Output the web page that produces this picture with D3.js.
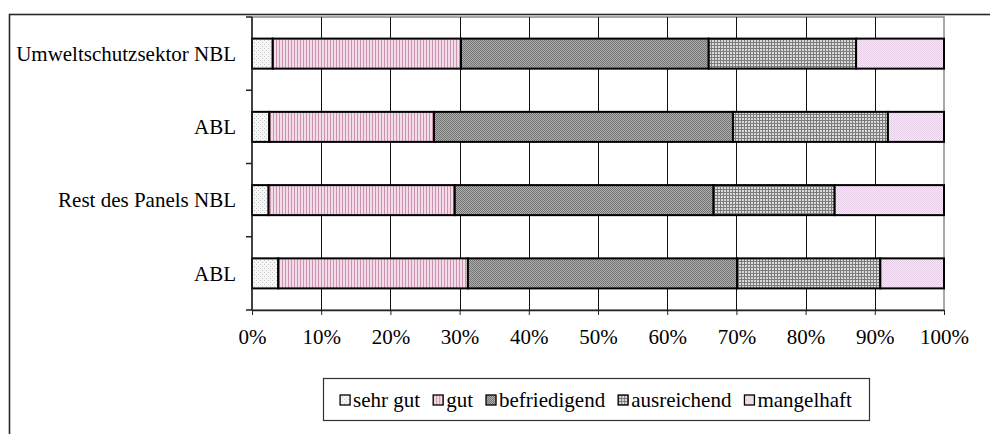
<!DOCTYPE html>
<html>
<head>
<meta charset="utf-8">
<script src="https://cdn.jsdelivr.net/npm/d3@7"></script>
<style>
  body { margin: 0; background: #fff; }
  svg { display: block; font-family: "Liberation Serif", "Times New Roman", serif; }
</style>
</head>
<body>
<div id="chart"></div>
<script>
// ── Data (percent of each group) ─────────────────────────────────
const categories = ["Umweltschutzsektor NBL", "ABL", "Rest des Panels NBL", "ABL"];
const grades = ["sehr gut", "gut", "befriedigend", "ausreichend", "mangelhaft"];
const sehrGut      = [3.0, 2.5, 2.4, 3.8];
const gut          = [27.2, 23.8, 26.9, 27.4];
const befriedigend = [35.8, 43.2, 37.4, 38.9];
const ausreichend  = [21.3, 22.4, 17.5, 20.7];
const mangelhaft   = [12.7, 8.1, 15.8, 9.2];
const xTicks = [0, 10, 20, 30, 40, 50, 60, 70, 80, 90, 100];

const rows = categories.map((c, i) => ({
  idx: i,
  "sehr gut": sehrGut[i],
  "gut": gut[i],
  "befriedigend": befriedigend[i],
  "ausreichend": ausreichend[i],
  "mangelhaft": mangelhaft[i]
}));

// ── Layout ───────────────────────────────────────────────────────
const W = 990, H = 434;
const plot = { left: 252, right: 944, top: 17, bottom: 310 };
const FS = 21;

const svg = d3.select("#chart").append("svg")
  .attr("width", W).attr("height", H);

// ── Fill patterns (Excel-style hatches) ─────────────────────────
const defs = svg.append("defs");
function pattern(id, size, bg, draw) {
  const p = defs.append("pattern")
    .attr("id", id)
    .attr("patternUnits", "userSpaceOnUse")
    .attr("width", size).attr("height", size);
  p.append("rect").attr("width", size).attr("height", size).attr("fill", bg);
  draw(p);
}
pattern("p0", 4, "#f6f6f6", p => {
  p.append("rect").attr("x", 0).attr("y", 0).attr("width", 1).attr("height", 1).attr("fill", "#c4c4c4");
  p.append("rect").attr("x", 2).attr("y", 2).attr("width", 1).attr("height", 1).attr("fill", "#c4c4c4");
});
pattern("p1", 3, "#f2dce7", p => {
  p.append("rect").attr("x", 0).attr("y", 0).attr("width", 1).attr("height", 3).attr("fill", "#cc94b2");
});
pattern("p2", 2, "#b0b0b0", p => {
  p.append("rect").attr("x", 0).attr("y", 0).attr("width", 1).attr("height", 1).attr("fill", "#727272");
  p.append("rect").attr("x", 1).attr("y", 1).attr("width", 1).attr("height", 1).attr("fill", "#727272");
});
pattern("p3", 3, "#dadada", p => {
  p.append("rect").attr("x", 0).attr("y", 0).attr("width", 3).attr("height", 1).attr("fill", "#7c7c7c");
  p.append("rect").attr("x", 0).attr("y", 0).attr("width", 1).attr("height", 3).attr("fill", "#7c7c7c");
});
pattern("p4", 2, "#f6ecf6", p => {
  p.append("rect").attr("x", 0).attr("y", 0).attr("width", 1).attr("height", 1).attr("fill", "#e4cce4");
  p.append("rect").attr("x", 1).attr("y", 1).attr("width", 1).attr("height", 1).attr("fill", "#e4cce4");
});
const fillOf = d3.scaleOrdinal().domain(grades)
  .range(["url(#p0)", "url(#p1)", "url(#p2)", "url(#p3)", "url(#p4)"]);

// ── Outer chart frame (cut off at right and bottom) ─────────────
svg.append("rect")
  .attr("x", 9.5).attr("y", 14.5)
  .attr("width", 1100).attr("height", 600)
  .attr("fill", "none").attr("stroke", "#2a2a2a").attr("stroke-width", 1.6);

// ── Scales ───────────────────────────────────────────────────────
const x = d3.scaleLinear().domain([0, 100]).range([plot.left, plot.right]);
const y = d3.scaleBand().domain(d3.range(categories.length))
  .range([plot.top, plot.bottom]).paddingInner(0.59).paddingOuter(0.295);
const step = y.step();

// plot area border
svg.append("rect")
  .attr("x", plot.left).attr("y", plot.top)
  .attr("width", plot.right - plot.left).attr("height", plot.bottom - plot.top)
  .attr("fill", "#fff").attr("stroke", "#8c8c8c").attr("stroke-width", 1.5);

// vertical gridlines
svg.append("g").selectAll("line")
  .data(xTicks.slice(1, -1))
  .join("line")
  .attr("x1", d => Math.round(x(d)) + 0.5).attr("x2", d => Math.round(x(d)) + 0.5)
  .attr("y1", plot.top).attr("y2", plot.bottom)
  .attr("stroke", "#111").attr("stroke-width", 1);

// ── Bars ─────────────────────────────────────────────────────────
const series = d3.stack().keys(grades)(rows);
svg.append("g").selectAll("g")
  .data(series)
  .join("g")
  .attr("fill", d => fillOf(d.key))
  .selectAll("rect")
  .data(d => d)
  .join("rect")
  .attr("x", d => x(d[0]))
  .attr("width", d => x(d[1]) - x(d[0]))
  .attr("y", d => y(d.data.idx))
  .attr("height", y.bandwidth())
  .attr("stroke", "#000").attr("stroke-width", 2);

// ── Axes ─────────────────────────────────────────────────────────
const xAxis = svg.append("g")
  .attr("transform", `translate(0,${plot.bottom})`)
  .call(d3.axisBottom(x).tickValues(xTicks).tickFormat(d => d + "%").tickSize(5).tickSizeOuter(0).tickPadding(14));
xAxis.select(".domain").attr("stroke", "#222").attr("stroke-width", 1.5);
xAxis.selectAll(".tick line").attr("stroke", "#222");
xAxis.selectAll("text")
  .attr("font-size", FS).attr("fill", "#000")
  .attr("font-family", "'Liberation Serif', 'Times New Roman', serif");

// y axis: line with ticks at the category boundaries
const yAxis = svg.append("g");
yAxis.append("line")
  .attr("x1", plot.left).attr("x2", plot.left)
  .attr("y1", plot.top).attr("y2", plot.bottom)
  .attr("stroke", "#222").attr("stroke-width", 1.5);
yAxis.selectAll(".ytick")
  .data(d3.range(categories.length + 1))
  .join("line")
  .attr("x1", plot.left - 6).attr("x2", plot.left)
  .attr("y1", i => plot.top + i * step).attr("y2", i => plot.top + i * step)
  .attr("stroke", "#222").attr("stroke-width", 1.5);
yAxis.selectAll("text")
  .data(categories)
  .join("text")
  .attr("x", plot.left - 16)
  .attr("y", (d, i) => y(i) + y.bandwidth() / 2)
  .attr("dy", "0.35em")
  .attr("text-anchor", "end")
  .attr("font-size", FS)
  .text(d => d);

// ── Legend ───────────────────────────────────────────────────────
const legBox = { x: 323, y: 378, w: 546, h: 42 };
const leg = svg.append("g");
leg.append("rect")
  .attr("x", legBox.x + 0.5).attr("y", legBox.y + 0.5)
  .attr("width", legBox.w).attr("height", legBox.h)
  .attr("fill", "#fff").attr("stroke", "#333").attr("stroke-width", 1.2);

const sw = 10, swGap = 3, itemGap = 13;
const items = leg.selectAll(".item").data(grades).join("g");
items.append("rect")
  .attr("width", sw).attr("height", sw)
  .attr("fill", d => fillOf(d)).attr("stroke", "#000").attr("stroke-width", 1.3);
items.append("text")
  .attr("x", sw + swGap).attr("y", sw / 2).attr("dy", "0.35em")
  .attr("font-size", FS)
  .text(d => d);

let widths = [];
items.each(function () {
  widths.push(sw + swGap + d3.select(this).select("text").node().getComputedTextLength());
});
const total = d3.sum(widths) + itemGap * (widths.length - 1);
let cx = legBox.x + (legBox.w - total) / 2;
items.attr("transform", (d, i) => {
  const t = `translate(${cx},${legBox.y + legBox.h / 2 - sw / 2 + 1})`;
  cx += widths[i] + itemGap;
  return t;
});
</script>
</body>
</html>
